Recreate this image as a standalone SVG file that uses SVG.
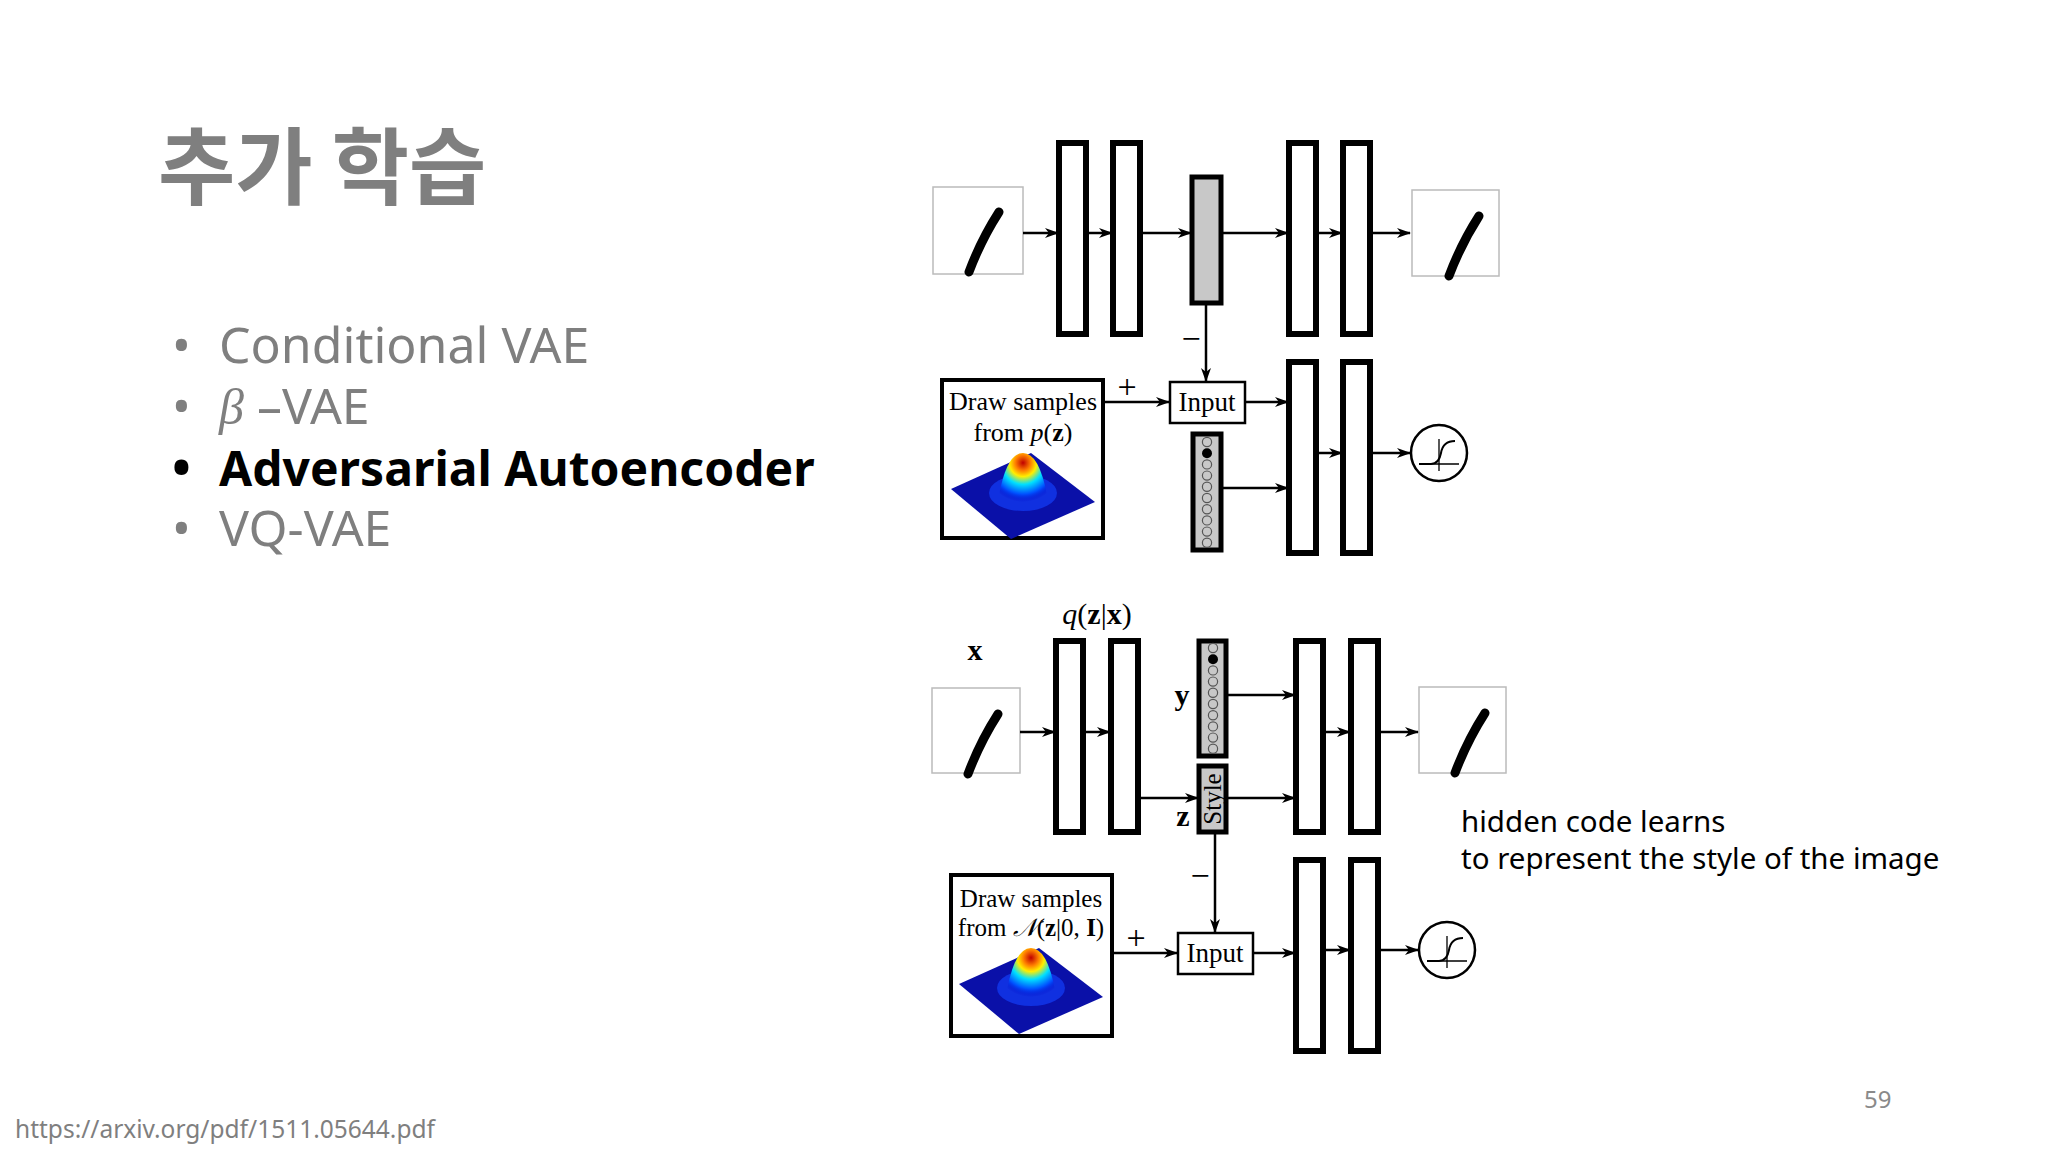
<svg xmlns="http://www.w3.org/2000/svg" xmlns:xlink="http://www.w3.org/1999/xlink" width="2048" height="1152" viewBox="0 0 2048 1152">
<style>
.bar{fill:#fff;stroke:#000;stroke-width:6}
.gbar{fill:#c8c8c8;stroke:#000;stroke-width:5}
.img{fill:#fff;stroke:#bbb;stroke-width:1.5}
.box{fill:#fff;stroke:#000;stroke-width:4}
.ibox{fill:#fff;stroke:#000;stroke-width:2.5}
.ln{stroke:#000;stroke-width:2.5;fill:none;marker-end:url(#ah)}
.tex{font-family:"Liberation Serif",serif;fill:#000}
.ko{font-family:"Noto Sans CJK KR","Noto Sans",sans-serif}
.bul{font-family:"Noto Sans","Open Sans",sans-serif;font-size:50px;fill:#7f7f7f}
</style>
<defs>
<marker id="ah" markerWidth="14" markerHeight="10" refX="13" refY="5" orient="auto" markerUnits="userSpaceOnUse"><path d="M0,0 L14,5 L0,10 L4,5 z" fill="#000"/></marker>
<radialGradient id="bump" cx="0.5" cy="0.2" r="0.8">
<stop offset="0" stop-color="#c00000"/><stop offset="0.2" stop-color="#ff8000"/><stop offset="0.35" stop-color="#ffee00"/><stop offset="0.55" stop-color="#00e0ff"/><stop offset="0.8" stop-color="#0050ff"/><stop offset="1" stop-color="#0000c0" stop-opacity="0"/></radialGradient>
<g id="digit"><path d="M64,24 Q46,52 34,84" stroke="#000" stroke-width="9" stroke-linecap="round" fill="none"/></g>
<g id="gauss">
<polygon points="0,36 80,0 144,49 60,86" fill="#0a10a8"/>
<ellipse cx="72" cy="40" rx="34" ry="18" fill="#1030e0"/>
<path d="M48,42 Q56,0 72,0 Q88,0 96,42 Q72,56 48,42z" fill="url(#bump)"/>
</g>
<g id="sig"><circle cx="0" cy="0" r="28" fill="#fff" stroke="#000" stroke-width="2.5"/><path d="M-20,11 L-8,11 Q0,11 2,0 Q4,-12 16,-12" fill="none" stroke="#000" stroke-width="2"/><path d="M-20,11 L20,11 M0,-14 L0,18" stroke="#000" stroke-width="1.3"/></g>
<g id="col"><g fill="none" stroke="#555" stroke-width="1.2"><circle cx="0" cy="0" r="4.6"/><circle cx="0" cy="22.4" r="4.6"/><circle cx="0" cy="33.6" r="4.6"/><circle cx="0" cy="44.8" r="4.6"/><circle cx="0" cy="56" r="4.6"/><circle cx="0" cy="67.2" r="4.6"/><circle cx="0" cy="78.4" r="4.6"/><circle cx="0" cy="89.6" r="4.6"/><circle cx="0" cy="100.8" r="4.6"/></g><circle cx="0" cy="11.2" r="5" fill="#000"/></g>
</defs>
<rect width="2048" height="1152" fill="#fff"/>

<g id="title"><text x="158" y="198" class="ko" font-size="84" font-weight="bold" fill="#7f7f7f">추가 학습</text></g>
<g id="bullets">
<text x="172" y="363" class="bul">•</text><text x="219" y="363" class="bul">Conditional VAE</text>
<text x="172" y="424" class="bul">•</text><text x="219" y="424" class="bul"><tspan font-family="Liberation Serif,serif" font-style="italic">β</tspan> –VAE</text>
<text x="172" y="486" class="bul" style="fill:#000;font-weight:bold">•</text><text x="219" y="486" class="bul" style="fill:#000;font-weight:bold;font-size:48px">Adversarial Autoencoder</text>
<text x="172" y="546" class="bul">•</text><text x="219" y="546" class="bul">VQ-VAE</text>
</g>

<!-- top diagram -->
<g id="top-in"><rect class="img" x="933" y="187" width="90" height="87"/><use href="#digit" x="935" y="188"/></g>
<g id="top-e1"><rect class="bar" x="1059" y="143" width="27" height="191"/></g>
<g id="top-e2"><rect class="bar" x="1113" y="143" width="27" height="191"/></g>
<g id="top-z"><rect class="gbar" x="1192" y="177" width="29" height="126"/></g>
<g id="top-d1"><rect class="bar" x="1289" y="143" width="27" height="191"/></g>
<g id="top-d2"><rect class="bar" x="1343" y="143" width="27" height="191"/></g>
<g id="top-out"><rect class="img" x="1412" y="190" width="87" height="86"/><use href="#digit" x="1415" y="192"/></g>
<g id="top-draw"><rect class="box" x="942" y="380" width="161" height="158"/>
<text class="tex" x="1023" y="410" font-size="26" text-anchor="middle">Draw samples</text>
<text class="tex" x="1023" y="441" font-size="26" text-anchor="middle">from <tspan font-style="italic">p</tspan>(<tspan font-weight="bold">z</tspan>)</text>
<use href="#gauss" x="951" y="453"/></g>
<g id="top-input"><rect class="ibox" x="1170" y="382" width="75" height="41"/><text class="tex" x="1207" y="411" font-size="27" text-anchor="middle">Input</text></g>
<g id="top-col"><rect class="gbar" x="1193" y="434" width="28" height="116"/><use href="#col" x="1207" y="442"/></g>
<g id="top-l1"><rect class="bar" x="1289" y="362" width="27" height="191"/></g>
<g id="top-l2"><rect class="bar" x="1343" y="362" width="27" height="191"/></g>
<g id="top-sig"><use href="#sig" x="1439" y="453"/></g>
<g id="top-labels" class="tex"><text x="1191" y="350" font-size="34" text-anchor="middle">−</text><text x="1127" y="398" font-size="34" text-anchor="middle">+</text></g>

<!-- bottom diagram -->
<g id="bot-labels" class="tex">
<text x="1097" y="624" font-size="30" text-anchor="middle"><tspan font-style="italic">q</tspan>(<tspan font-weight="bold">z</tspan>|<tspan font-weight="bold">x</tspan>)</text>
<text x="975" y="660" font-size="30" font-weight="bold" text-anchor="middle">x</text>
<text x="1182" y="705" font-size="30" font-weight="bold" text-anchor="middle">y</text>
<text x="1183" y="826" font-size="30" font-weight="bold" text-anchor="middle">z</text>
<text x="1200" y="887" font-size="34" text-anchor="middle">−</text>
<text x="1136" y="949" font-size="34" text-anchor="middle">+</text>
</g>
<g id="bot-in"><rect class="img" x="932" y="688" width="88" height="85"/><use href="#digit" x="934" y="690"/></g>
<g id="bot-e1"><rect class="bar" x="1056" y="641" width="27" height="191"/></g>
<g id="bot-e2"><rect class="bar" x="1111" y="641" width="27" height="191"/></g>
<g id="bot-y"><rect class="gbar" x="1199" y="641" width="27" height="115"/><use href="#col" x="1213" y="648"/></g>
<g id="bot-style"><rect class="gbar" x="1199" y="766" width="27" height="66"/><text class="tex" transform="translate(1221,799) rotate(-90)" font-size="25" text-anchor="middle">Style</text></g>
<g id="bot-d1"><rect class="bar" x="1296" y="641" width="27" height="191"/></g>
<g id="bot-d2"><rect class="bar" x="1351" y="641" width="27" height="191"/></g>
<g id="bot-out"><rect class="img" x="1419" y="687" width="87" height="86"/><use href="#digit" x="1421" y="689"/></g>
<g id="bot-draw"><rect class="box" x="951" y="875" width="161" height="161"/>
<text class="tex" x="1031" y="907" font-size="25" text-anchor="middle">Draw samples</text>
<text class="tex" x="1031" y="936" font-size="25" text-anchor="middle">from <tspan font-style="italic">𝒩</tspan>(<tspan font-weight="bold">z</tspan>|0, <tspan font-weight="bold">I</tspan>)</text>
<use href="#gauss" x="959" y="948"/></g>
<g id="bot-input"><rect class="ibox" x="1178" y="933" width="75" height="41"/><text class="tex" x="1215" y="962" font-size="27" text-anchor="middle">Input</text></g>
<g id="bot-l1"><rect class="bar" x="1296" y="860" width="27" height="191"/></g>
<g id="bot-l2"><rect class="bar" x="1351" y="860" width="27" height="191"/></g>
<g id="bot-sig"><use href="#sig" x="1447" y="950"/></g>

<g id="connectors">
<line class="ln" x1="1023" y1="233" x2="1058" y2="233"/>
<line class="ln" x1="1086" y1="233" x2="1112" y2="233"/>
<line class="ln" x1="1140" y1="233" x2="1191" y2="233"/>
<line class="ln" x1="1221" y1="233" x2="1288" y2="233"/>
<line class="ln" x1="1316" y1="233" x2="1342" y2="233"/>
<line class="ln" x1="1370" y1="233" x2="1410" y2="233"/>
<line class="ln" x1="1206" y1="303" x2="1206" y2="381"/>
<line class="ln" x1="1103" y1="402" x2="1169" y2="402"/>
<line class="ln" x1="1245" y1="402" x2="1288" y2="402"/>
<line class="ln" x1="1221" y1="488" x2="1288" y2="488"/>
<line class="ln" x1="1316" y1="453" x2="1342" y2="453"/>
<line class="ln" x1="1370" y1="453" x2="1410" y2="453"/>
<line class="ln" x1="1020" y1="732" x2="1055" y2="732"/>
<line class="ln" x1="1083" y1="732" x2="1110" y2="732"/>
<line class="ln" x1="1138" y1="798" x2="1198" y2="798"/>
<line class="ln" x1="1226" y1="695" x2="1295" y2="695"/>
<line class="ln" x1="1226" y1="798" x2="1295" y2="798"/>
<line class="ln" x1="1323" y1="732" x2="1350" y2="732"/>
<line class="ln" x1="1378" y1="732" x2="1418" y2="732"/>
<line class="ln" x1="1215" y1="832" x2="1215" y2="932"/>
<line class="ln" x1="1112" y1="953" x2="1177" y2="953"/>
<line class="ln" x1="1253" y1="953" x2="1295" y2="953"/>
<line class="ln" x1="1323" y1="950" x2="1350" y2="950"/>
<line class="ln" x1="1378" y1="950" x2="1418" y2="950"/>
</g>

<g id="notes">
<text x="1461" y="832" font-family="Noto Sans,sans-serif" font-size="29.5" fill="#000">hidden code learns</text>
<text x="1461" y="869" font-family="Noto Sans,sans-serif" font-size="29.5" fill="#000">to represent the style of the image</text>
<text x="1864" y="1108" font-family="Noto Sans,sans-serif" font-size="24" fill="#8a8a8a">59</text>
<text x="15" y="1138" font-family="Noto Sans,sans-serif" font-size="24.5" fill="#7f7f7f">https://arxiv.org/pdf/1511.05644.pdf</text>
</g>
</svg>
